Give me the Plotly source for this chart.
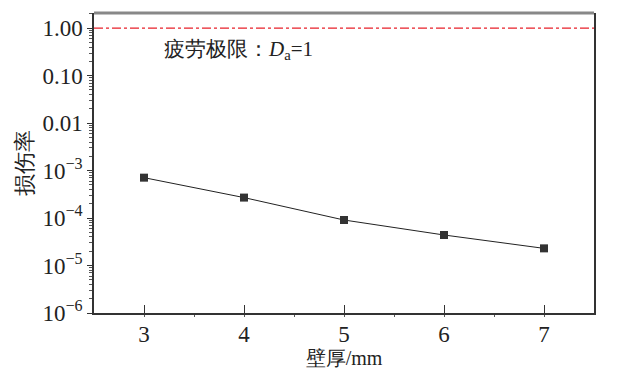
import plotly.graph_objects as go

thickness_mm = [3, 4, 5, 6, 7]
damage_rate = [7.1e-4, 2.7e-4, 9.1e-5, 4.4e-5, 2.3e-5]
fatigue_limit = 1.0
x_range = [2.5, 7.5]
y_tickvals = [1e-6, 1e-5, 1e-4, 1e-3, 0.01, 0.1, 1.0]
y_ticktext = ["10<sup>−6</sup>", "10<sup>−5</sup>", "10<sup>−4</sup>", "10<sup>−3</sup>",
              "0.01", "0.10", "1.00"]
x_tickvals = [3, 4, 5, 6, 7]

FONT = "Liberation Serif"

fig = go.Figure()
fig.add_trace(go.Scatter(
    x=x_range, y=[fatigue_limit, fatigue_limit], mode="lines",
    line=dict(color="#e8202a", width=1.2, dash="dashdot"), showlegend=False,
    hoverinfo="skip"))
fig.add_trace(go.Scatter(
    x=thickness_mm, y=damage_rate, mode="lines+markers",
    line=dict(color="#222222", width=1),
    marker=dict(symbol="square", size=8, color="#333333"),
    showlegend=False))

fig.update_layout(
    width=636, height=373,
    margin=dict(l=94, r=42, t=13, b=60, autoexpand=False),
    plot_bgcolor="white", paper_bgcolor="white",
    font=dict(family=FONT, size=23, color="#222222"),
    xaxis=dict(range=x_range, tickvals=x_tickvals, ticks="inside", ticklen=8,
               tickcolor="#333", showline=True, linecolor="#333", linewidth=1.5,
               showgrid=False, zeroline=False, automargin=False,
               minor=dict(ticks="outside", ticklen=2, dtick=0.5, tickcolor="#555"),
               title=dict(text="壁厚/mm", font=dict(size=20), standoff=0),
               tickfont=dict(size=23)),
    yaxis=dict(type="log", range=[-6, 0.32], tickvals=y_tickvals, ticktext=y_ticktext,
               ticks="outside", ticklen=5, tickcolor="#333",
               showline=True, linecolor="#333", linewidth=1.5, mirror=True,
               showgrid=False, zeroline=False, automargin=False,
               minor=dict(ticks="outside", ticklen=3, tickcolor="#555", dtick="D1"),
               title=dict(text="损伤率", font=dict(size=22), standoff=4),
               tickfont=dict(size=23)),
    shapes=[dict(type="line", xref="paper", yref="paper", x0=0, x1=1, y0=1, y1=1,
                 line=dict(color="#888888", width=3))],
    annotations=[dict(text="疲劳极限：<i>D</i><sub>a</sub>=1", xref="paper", yref="paper",
                      x=0.136, y=0.877, xanchor="left", yanchor="middle",
                      showarrow=False, font=dict(size=21))],
)

fig.write_html("out.html", config={"displayModeBar": False},
               post_script="document.body.style.margin='0px';")
